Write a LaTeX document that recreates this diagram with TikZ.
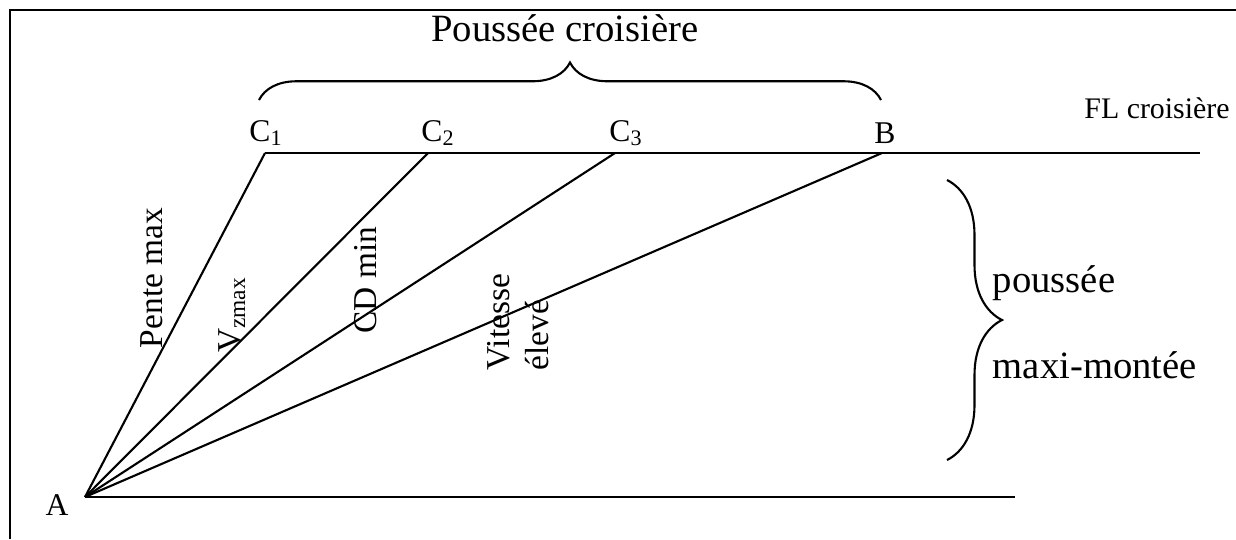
\documentclass[tikz,border=0pt]{standalone}
\usepackage{fontspec}
\setmainfont{Liberation Serif}
\usetikzlibrary{decorations.pathreplacing}
\begin{document}
\begin{tikzpicture}[x=0.02cm, y=-0.02cm, line width=1.2pt,
  every node/.style={font=\fontsize{19}{22}\selectfont, inner sep=1pt},
  bigtxt/.style={font=\fontsize{22}{26}\selectfont},
  ptlabel/.style={font=\fontsize{18}{21}\selectfont},
  bracepath/.style={decorate, decoration={brace, amplitude=#1}}]
\useasboundingbox (0,0) rectangle (1236,539);
% frame
\draw (10,539) -- (10,10) -- (1236,10);
% points
\coordinate (A) at (85,497);
\coordinate (C1) at (265,153);
\coordinate (C2) at (428,153);
\coordinate (C3) at (615,153);
\coordinate (B) at (882,153);
\coordinate (FLend) at (1200,153);
\coordinate (Aend) at (1015,497);
% flight level and ground
\draw (C1) -- (FLend);
\draw (A) -- (Aend);
% climb paths
\foreach \p in {C1,C2,C3,B}
  \draw (A) -- (\p);
% point labels
\node[ptlabel] (lA) at (57,505) {A};
\node[ptlabel] (lC1) at (266,133) {C\textsubscript{1}};
\node[ptlabel] (lC2) at (438,133) {C\textsubscript{2}};
\node[ptlabel] (lC3) at (626,133) {C\textsubscript{3}};
\node[ptlabel] (lB) at (885,133) {B};
% path labels
\node[rotate=90] (pente) at (152,278) {Pente max};
\node[rotate=90] (vz) at (232,315) {V\textsubscript{zmax}};
\node[rotate=90] (cd) at (366,280) {CD min};
\node[rotate=90, align=left] (vit) at (518,322) {Vitesse\\élevé};
% braces
\draw[bracepath=0.75cm] (259,100) -- (881,100);
\node[bigtxt] (cruise) at (565,28) {Poussée croisière};
\node[font=\fontsize{17}{20}\selectfont] (fl) at (1157,108) {FL croisière};
\draw[bracepath=1.1cm] (947,180) -- (947,460);
\node[bigtxt, anchor=west] (climb1) at (990,283) {poussée};
\node[bigtxt, anchor=west] (climb2) at (990,365) {maxi-montée};
\end{tikzpicture}
\end{document}
